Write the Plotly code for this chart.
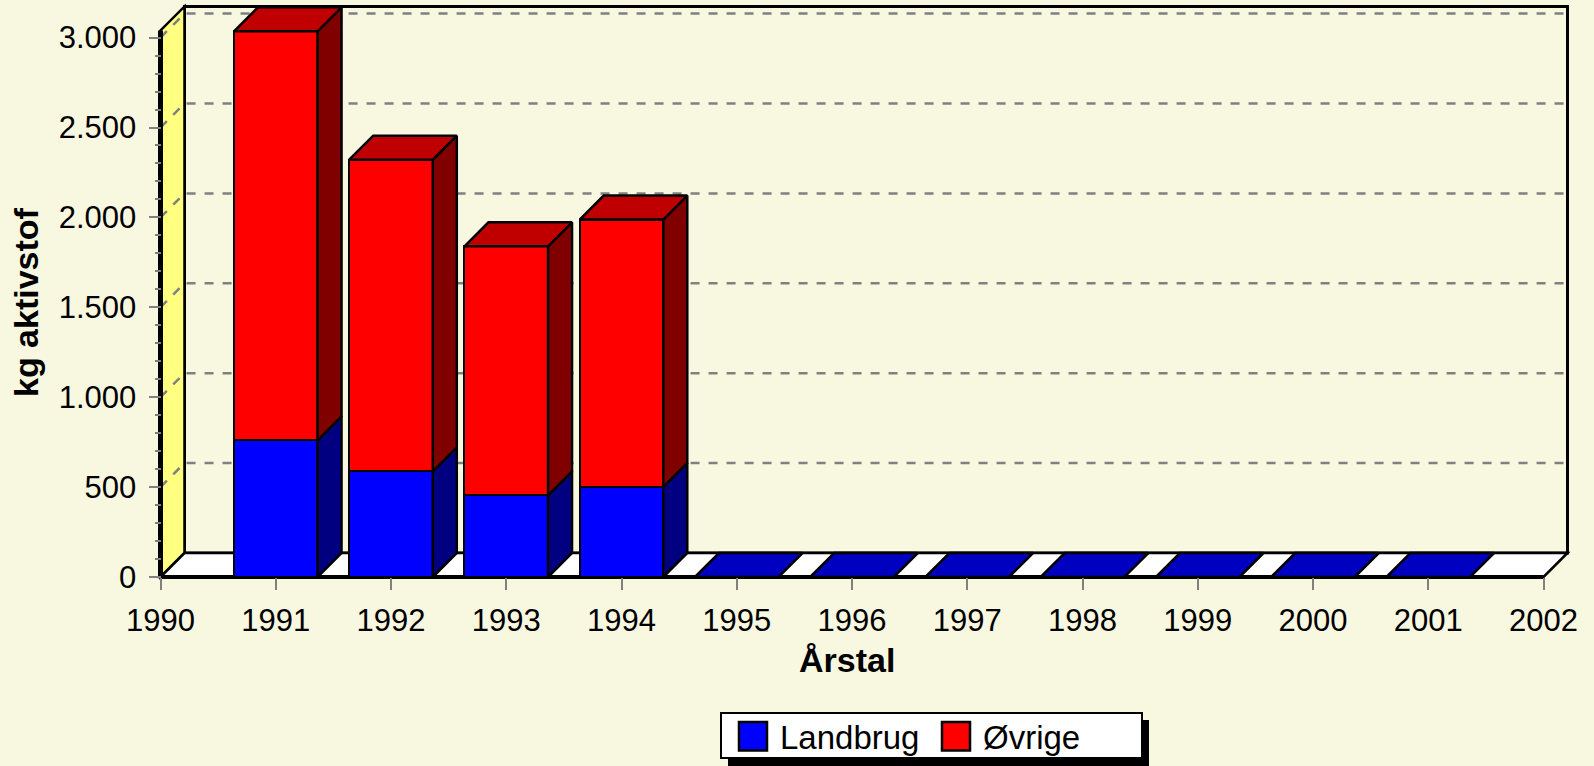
import plotly.graph_objects as go

# ---------------- data ----------------
years = [1991, 1992, 1993, 1994, 1995, 1996, 1997, 1998, 1999, 2000, 2001]
landbrug = [760, 588, 454, 501, 0, 0, 0, 0, 0, 0, 0]
ovrige = [2275, 1733, 1385, 1487, None, None, None, None, None, None, None]
series_names = ["Landbrug", "Øvrige"]
x_tick_vals = list(range(1990, 2003))
x_tick_labels = [str(v) for v in x_tick_vals]
y_tick_vals = [0, 500, 1000, 1500, 2000, 2500, 3000]
y_tick_labels = ["0", "500", "1.000", "1.500", "2.000", "2.500", "3.000"]
y_title = "kg aktivstof"
x_title = "Årstal"

# ---------------- styling / geometry ----------------
W, H = 1594, 766
BG = "#F8F8E0"
FRONT = {"Landbrug": "#0000FF", "Øvrige": "#FF0000"}
SIDE = {"Landbrug": "#000080", "Øvrige": "#800000"}
TOP = {"Landbrug": "#0000C0", "Øvrige": "#C00000"}
FONT = "Liberation Sans, Arial, sans-serif"

X0, X1 = 1990, 2002          # front floor extent (axis units)
YMAX = 3040                  # top of front axis
ORIGIN_PX = (160.5, 577.0)   # pixel of (X0, 0)
SX = 115.25                  # px per year
SY = 539.4 / 3000            # px per kg
DEPTH = 24                   # px depth of the 3D box
DX = DEPTH / SX
DY = DEPTH / SY
BAR_W = 0.725

ML, MR, MT, MB = 150, 14, 0, 184
PL, PR, PT, PB = ML, W - MR, MT, H - MB
x_range = [X0 - (ORIGIN_PX[0] - PL) / SX, X0 + (PR - ORIGIN_PX[0]) / SX]
y_range = [-(PB - ORIGIN_PX[1]) / SY, (ORIGIN_PX[1] - PT) / SY]


def xp(px):
    return (px - PL) / (PR - PL)


def yp(py):
    return (PB - py) / (PB - PT)


fig = go.Figure()

# front faces as real stacked bars
fig.add_trace(go.Bar(x=years, y=landbrug, name=series_names[0], width=BAR_W,
                     marker=dict(color=FRONT["Landbrug"], line=dict(color="black", width=2.5)),
                     showlegend=False))
fig.add_trace(go.Bar(x=years, y=ovrige, name=series_names[1], width=BAR_W,
                     marker=dict(color=FRONT["Øvrige"], line=dict(color="black", width=2.5)),
                     showlegend=False))


def poly(xs, ys, color):
    fig.add_trace(go.Scatter(x=xs + [xs[0]], y=ys + [ys[0]], mode="lines", fill="toself",
                             fillcolor=color, line=dict(color="black", width=2.5),
                             hoverinfo="skip", showlegend=False))


# 3D side and top faces derived from data
for x, l, o in zip(years, landbrug, ovrige):
    xr = x + BAR_W / 2
    xl = x - BAR_W / 2
    segs = [("Landbrug", 0, l)]
    if o is not None:
        segs.append(("Øvrige", l, l + o))
    for name, b, t in segs:
        if t > b:
            poly([xr, xr + DX, xr + DX, xr], [b, b + DY, t + DY, t], SIDE[name])
    top_name, _, top_val = segs[-1]
    poly([xl, xr, xr + DX, xl + DX], [top_val, top_val, top_val + DY, top_val + DY], TOP[top_name])

shapes = []
# back wall
shapes.append(dict(type="rect", xref="x", yref="y", x0=X0 + DX, x1=X1 + DX, y0=DY, y1=YMAX + DY,
                   fillcolor=BG, line=dict(color="black", width=3), layer="below"))
# left wall
shapes.append(dict(type="path", xref="x", yref="y",
                   path=f"M{X0},0 L{X0},{YMAX} L{X0+DX},{YMAX+DY} L{X0+DX},{DY} Z",
                   fillcolor="#FFFF80", line=dict(color="black", width=2.5), layer="below"))
# floor
shapes.append(dict(type="path", xref="x", yref="y",
                   path=f"M{X0},0 L{X1},0 L{X1+DX},{DY} L{X0+DX},{DY} Z",
                   fillcolor="white", line=dict(color="black", width=2.5), layer="below"))
# gridlines (side wall + back wall)
for v in y_tick_vals[1:]:
    shapes.append(dict(type="path", xref="x", yref="y",
                       path=f"M{X0},{v} L{X0+DX},{v+DY} L{X1+DX},{v+DY}",
                       line=dict(color="#808080", width=2.5, dash="9px,9px"), layer="below"))
# front axis line and front floor edge
shapes.append(dict(type="line", xref="x", yref="y", x0=X0, x1=X0, y0=0, y1=YMAX,
                   line=dict(color="black", width=5), layer="below"))
shapes.append(dict(type="line", xref="x", yref="y", x0=X0, x1=X1, y0=0, y1=0,
                   line=dict(color="black", width=4), layer="below"))

# manual legend (paper coords)
LB = (721, 713, 1142, 758)
shapes.append(dict(type="rect", xref="paper", yref="paper", x0=xp(LB[0] + 7), x1=xp(LB[2] + 7),
                   y0=yp(LB[3] + 8), y1=yp(LB[1] + 7), fillcolor="black", line=dict(width=0)))
shapes.append(dict(type="rect", xref="paper", yref="paper", x0=xp(LB[0]), x1=xp(LB[2]),
                   y0=yp(LB[3]), y1=yp(LB[1]), fillcolor="white", line=dict(color="black", width=2)))
legend_items = [(series_names[0], 739, FRONT["Landbrug"]), (series_names[1], 942, FRONT["Øvrige"])]
annotations = []
for name, sx, col in legend_items:
    shapes.append(dict(type="rect", xref="paper", yref="paper", x0=xp(sx), x1=xp(sx + 28),
                       y0=yp(750.5), y1=yp(722), fillcolor=col, line=dict(color="black", width=2.5)))
    annotations.append(dict(text=name, xref="paper", yref="paper", x=xp(sx + 39), y=yp(737),
                            xanchor="left", yanchor="middle", showarrow=False,
                            font=dict(family=FONT, size=33, color="black")))

annotations.append(dict(text=f"<b>{y_title}</b>", xref="paper", yref="paper", x=xp(26.5), y=yp(302.5),
                        textangle=-90, showarrow=False, xanchor="center", yanchor="middle",
                        font=dict(family=FONT, size=34, color="black")))
annotations.append(dict(text=f"<b>{x_title}</b>", xref="paper", yref="paper", x=xp(846.5), y=yp(660),
                        showarrow=False, xanchor="center", yanchor="middle",
                        font=dict(family=FONT, size=34, color="black")))

minor_vals = [v for v in range(100, 3001, 100) if v % 500 != 0]

fig.update_layout(
    width=W, height=H,
    paper_bgcolor=BG, plot_bgcolor="rgba(0,0,0,0)",
    margin=dict(l=ML, r=MR, t=MT, b=MB, autoexpand=False),
    barmode="stack", bargap=0,
    showlegend=False,
    shapes=shapes, annotations=annotations,
    xaxis=dict(range=x_range, tickvals=x_tick_vals, ticktext=x_tick_labels,
               ticks="outside", ticklen=12, tickwidth=2, tickcolor="#808080",
               showgrid=False, zeroline=False, showline=False,
               anchor="free", position=(PB - ORIGIN_PX[1]) / (PB - PT),
               ticklabelstandoff=4,
               tickfont=dict(family=FONT, size=31, color="black")),
    yaxis=dict(range=y_range, tickvals=y_tick_vals, ticktext=y_tick_labels,
               ticks="outside", ticklen=12, tickwidth=2, tickcolor="#808080",
               showgrid=False, zeroline=False, showline=False,
               anchor="free", position=xp(ORIGIN_PX[0]),
               ticklabelstandoff=6,
               minor=dict(tickvals=minor_vals, ticks="outside", ticklen=6, tickwidth=2,
                          tickcolor="#808080", showgrid=False),
               tickfont=dict(family=FONT, size=31, color="black")),
)

fig.write_html("out.html", config={"displayModeBar": False},
               post_script="document.body.style.margin='0';document.body.style.overflow='hidden';")
